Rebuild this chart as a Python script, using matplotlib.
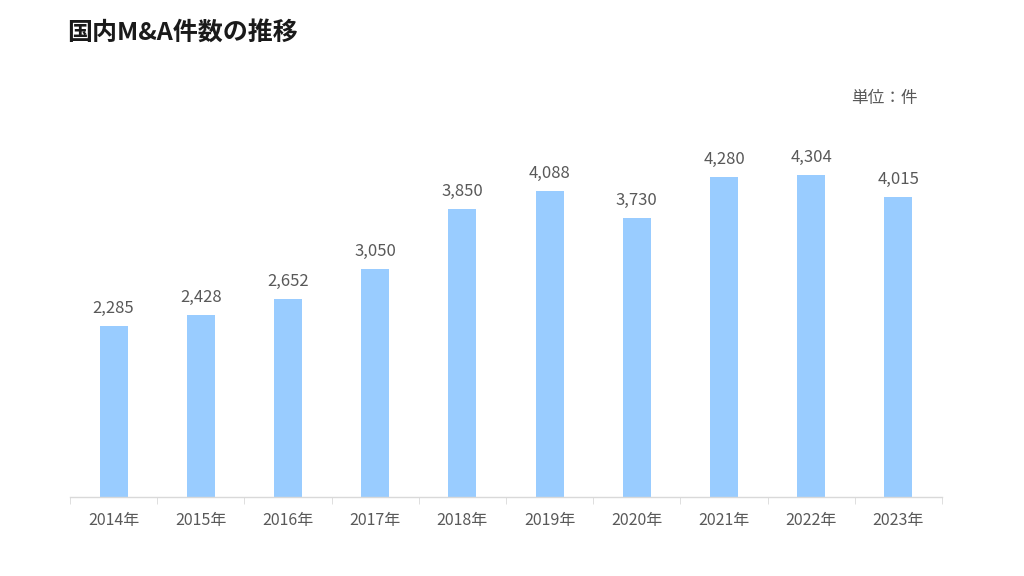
import matplotlib
matplotlib.use("Agg")
import matplotlib.pyplot as plt
import numpy as np

plt.rcParams['font.family'] = ['Noto Sans CJK JP', 'DejaVu Sans']

years = ["2014年", "2015年", "2016年", "2017年", "2018年", "2019年", "2020年", "2021年", "2022年", "2023年"]
counts = [2285, 2428, 2652, 3050, 3850, 4088, 3730, 4280, 4304, 4015]

fig = plt.figure(figsize=(10.24, 5.76), dpi=100)
ax = fig.add_axes([70/1024, 79/576, 872/1024, 374/576])

x = np.arange(len(years))
ax.bar(x, counts, width=0.32, color="#99CCFF", zorder=2)
for xi, v in zip(x, counts):
    ax.text(xi, v + 120, f"{v:,}", ha="center", va="bottom", fontsize=12, color="#595959")

ax.set_xlim(-0.5, len(years) - 0.5)
ax.set_ylim(0, 5000)
ax.set_yticks([])
ax.set_xticks(x)
ax.set_xticklabels(years, fontsize=11.5, color="#595959")
ax.tick_params(axis='x', which='major', length=0, pad=11)
ax.set_xticks(np.arange(-0.5, len(years)), minor=True)
ax.tick_params(axis='x', which='minor', length=5, color="#D9D9D9", direction='out')
for s in ["top", "right", "left"]:
    ax.spines[s].set_visible(False)
ax.spines["bottom"].set_color("#D9D9D9")
ax.spines["bottom"].set_linewidth(1)

fig.text(67/1024, 1 - 33/576, "国内M&A件数の推移", fontsize=18, fontweight="bold", color="#1a1a1a", va="center", ha="left")
fig.text(918/1024, 1 - 99/576, "単位：件", fontsize=12, color="#595959", va="center", ha="right")

fig.savefig("out.png", dpi=100)
